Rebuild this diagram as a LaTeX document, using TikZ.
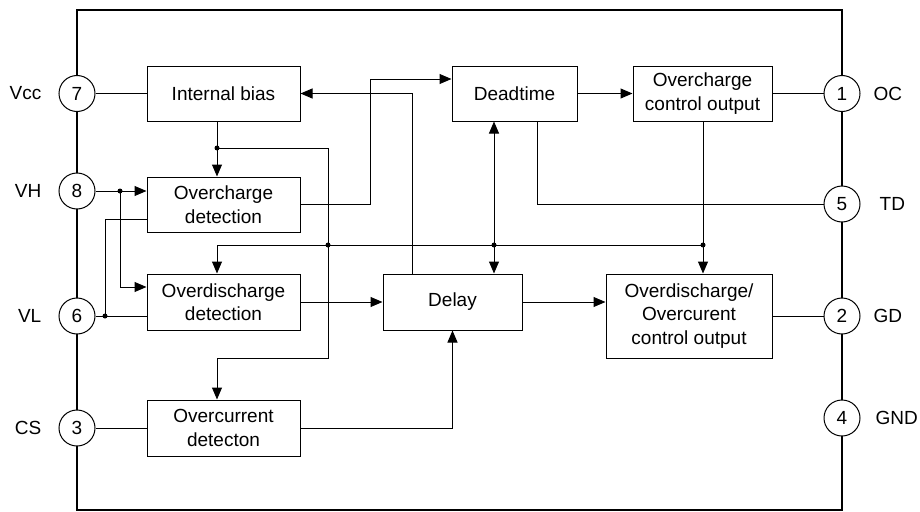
\documentclass[tikz,border=0pt]{standalone}
\usepackage{fontspec}
\setmainfont{Liberation Sans}
\usetikzlibrary{arrows.meta}
\usetikzlibrary{positioning}
\newcommand\blocktext{\fontsize{19}{23.5}\selectfont}
\tikzset{%
  blockb/.style={rectangle,draw,line width=1pt,align=center,inner sep=2pt,font=\blocktext},
  pinb/.style={circle,draw,line width=1pt,fill=white,minimum size=36pt,inner sep=0pt,font=\blocktext},
  pinlabel/.style={inner sep=0pt,font=\blocktext},
  wire/.style={line width=1pt},
  sig/.style={line width=1pt,-{Triangle[length=12pt,width=10pt]}},
  dotb/.style={circle,fill,inner sep=0pt,minimum size=5pt}
}

\begin{document}
\begin{tikzpicture}[x=1pt,y=-1pt,node distance=17pt]
            \useasboundingbox (0,0) rectangle (920,511);
            % chip outline
            \draw[line width=2.2pt] (77,10) rectangle (842,510);
            % pins
            \node[pinb](p7) at (77,93.5){7};
            \node[pinb](p8) at (77,191){8};
            \node[pinb](p6) at (77,316){6};
            \node[pinb](p3) at (77,428){3};
            \node[pinb](p1) at (842,93.5){1};
            \node[pinb](p5) at (842,204){5};
            \node[pinb](p2) at (842,316){2};
            \node[pinb](p4) at (842,418){4};
            \node[pinlabel,left=of p7](lvcc){Vcc};
            \node[pinlabel,left=of p8](lvh){VH};
            \node[pinlabel,left=of p6](lvl){VL};
            \node[pinlabel,left=of p3](lcs){CS};
            \node[pinlabel,right=13pt of p1](loc){OC};
            \node[pinlabel,right=19pt of p5](ltd){TD};
            \node[pinlabel,right=13pt of p2](lgd){GD};
            \node[pinlabel,right=15pt of p4](lgnd){GND};
            % blocks
            \node[blockb,minimum width=153pt,minimum height=55pt](ib) at (223.5,93.5){Internal bias};
            \node[blockb,minimum width=153pt,minimum height=55pt](ocd) at (223.5,204.5){Overcharge\\detection};
            \node[blockb,minimum width=153pt,minimum height=56pt](odd) at (223.5,302){Overdischarge\\detection};
            \node[blockb,minimum width=153pt,minimum height=56pt](ocur) at (223.5,428){Overcurrent\\detecton};
            \node[blockb,minimum width=125pt,minimum height=55pt](dt) at (514.5,93.5){Deadtime};
            \node[blockb,minimum width=139pt,minimum height=55pt](occ) at (702.5,93.5){Overcharge\\control output};
            \node[blockb,minimum width=139pt,minimum height=56pt](dl) at (452.5,302){Delay};
            \node[blockb,minimum width=166pt,minimum height=84pt](odoc) at (689,316){Overdischarge/\\Overcurent\\control output};
            % bend points and junctions
            \coordinate (jb) at (217,148);
            \coordinate (jc) at (328,358);
            \coordinate (jd) at (703,245);
            \coordinate (je) at (328,245);
            \coordinate (jf) at (494,245);
            \coordinate (jg) at (412,93.5);
            \coordinate (jh) at (370,79);
            \coordinate (ji) at (537,204);
            \coordinate (jk) at (120,191);
            \coordinate (jm) at (120,287);
            \coordinate (jn) at (105,316);
            \coordinate (jo) at (105,219);
            % connectors
            \draw[wire] (p7) -- (ib);
            \draw[wire] (ib.south -| jb) -- (jb);
            \draw[sig] (jb) -- (ocd.north -| jb);
            \draw[sig] (jb) -| (jc) -| (ocur.north -| jb);
            \draw[sig] (jd) -| (odd.north -| jb);
            \draw[wire] (occ.south -| jd) -- (jd);
            \draw[sig] (jd) -- (odoc.north -| jd);
            \draw[sig] (jf) -- (dt.south -| jf);
            \draw[sig] (jf) -- (dl.north -| jf);
            \draw[sig] (dl.north -| jg) -- (jg) -- (ib.east);
            \draw[sig] (ocd.east) -| (jh) -- (dt.west |- jh);
            \draw[sig] (dt) -- (occ);
            \draw[wire] (occ) -- (p1);
            \draw[wire] (dt.south -| ji) -- (ji) -- (p5);
            \draw[sig] (p8) -- (ocd.west |- p8);
            \draw[sig] (jk) -- (jm) -- (odd.west |- jm);
            \draw[wire] (p6) -- (odd.west |- p6);
            \draw[wire] (jn) -- (jo) -- (ocd.west |- jo);
            \draw[sig] (odd) -- (dl);
            \draw[sig] (dl.east) -- (odoc.west |- dl.east);
            \draw[wire] (odoc) -- (p2);
            \draw[wire] (p3) -- (ocur);
            \draw[sig] (ocur.east) -| (dl.south);
            % junction dots
            \foreach \j in {jb,jd,je,jf,jk,jn}
                \node[dotb] at (\j){};
        \end{tikzpicture}
\end{document}
